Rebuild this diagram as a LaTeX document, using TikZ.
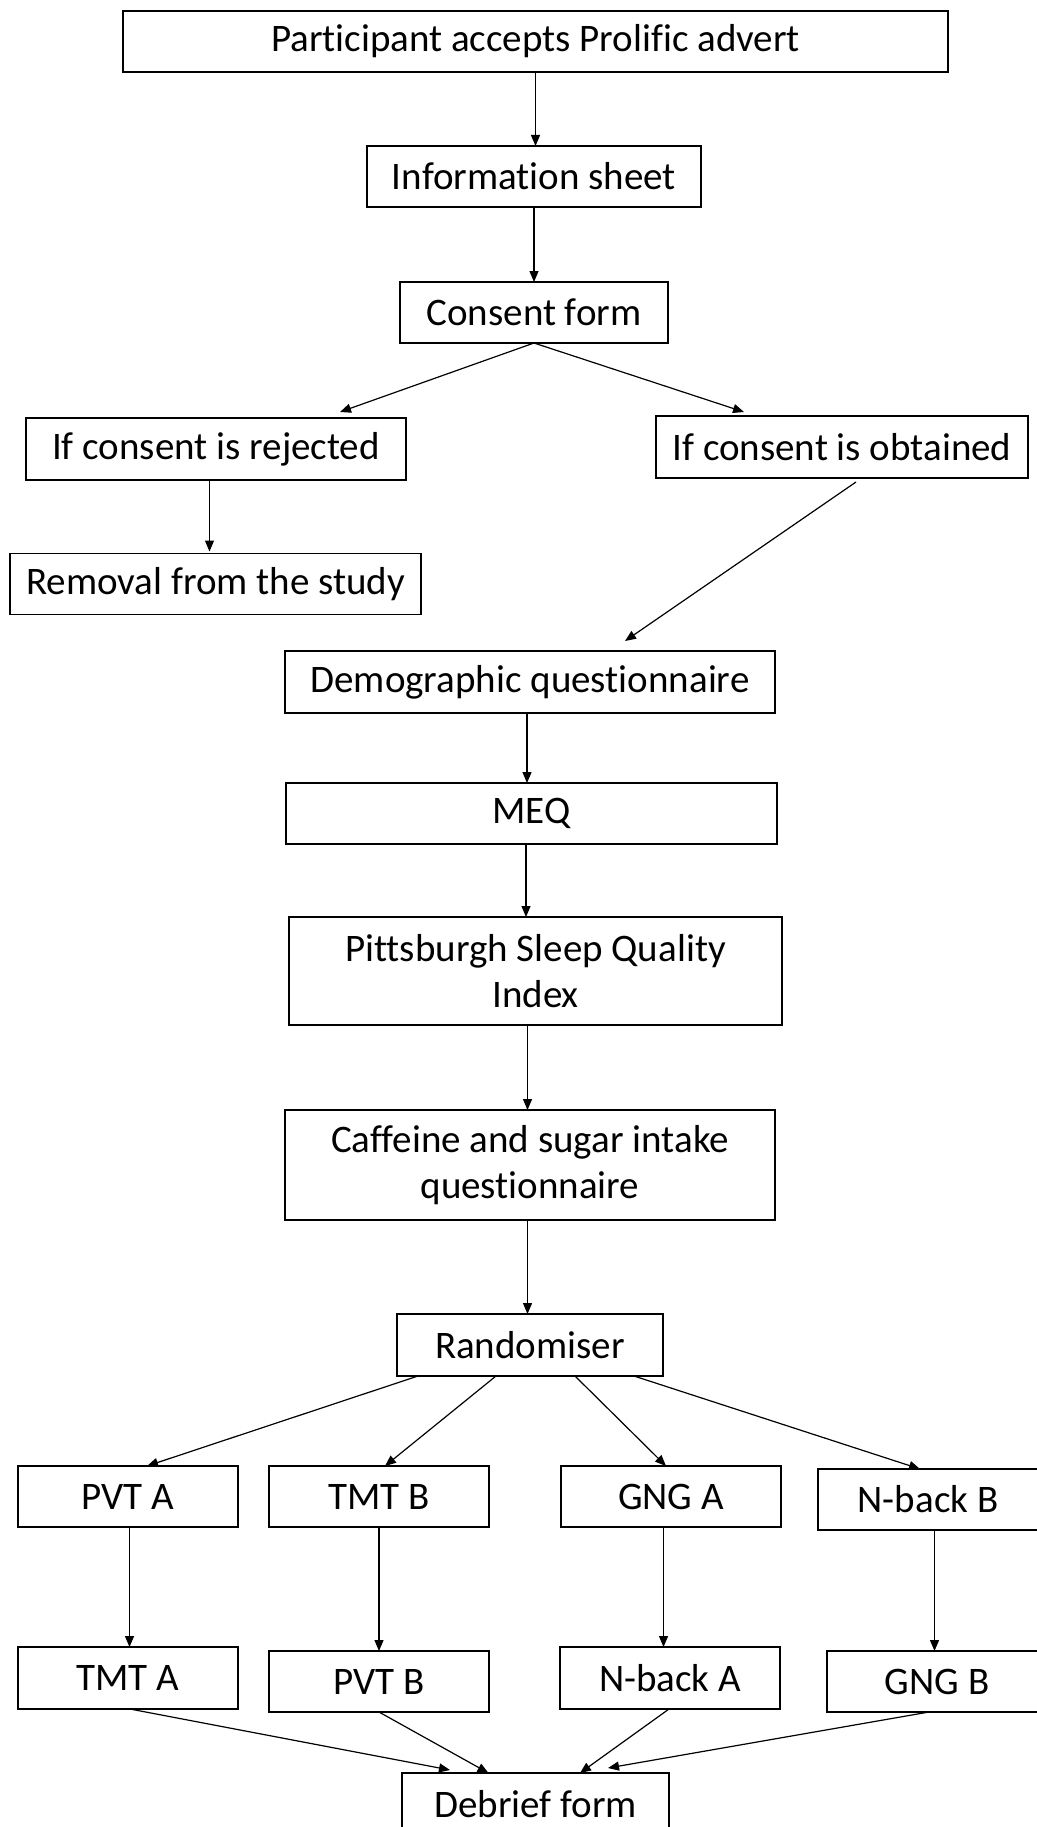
\documentclass[tikz,border=0pt]{standalone}
\usepackage{fontspec}
\setmainfont{Carlito}[Ligatures=NoCommon]
\usetikzlibrary{arrows.meta,calc}
\tikzset{
  box/.style={draw=black, line width=1.6pt, inner sep=0pt, outer sep=0pt, align=center,
    font=\fontsize{39}{46}\selectfont, text=black},
  conn/.style={line width=1.2pt, -{Triangle[length=11pt,width=9pt]}}
}
\begin{document}
\begin{tikzpicture}[x=1pt,y=-1pt]
\useasboundingbox[fill=white] (0,0) rectangle (1036,1827);
\node[box, minimum width=825, minimum height=61] (part) at (535.5,41.5) {Participant accepts Prolific advert};
\node[box, minimum width=334, minimum height=61] (info) at (534,176.5) {Information sheet};
\node[box, minimum width=268, minimum height=61] (consent) at (534,312.5) {Consent form};
\node[box, minimum width=380, minimum height=62] (rej) at (216,449) {If consent is rejected};
\node[box, minimum width=372, minimum height=62] (obt) at (842,447) {If consent is obtained};
\node[box, minimum width=411, minimum height=61] (rem) at (215.5,584) {Removal from the study};
\node[box, minimum width=490, minimum height=62] (demo) at (530,682) {Demographic questionnaire};
\node[box, minimum width=491, minimum height=61] (meq) at (531.5,813.5) {MEQ};
\node[box, minimum width=493, minimum height=108] (psqi) at (535.5,971) {Pittsburgh Sleep Quality\\Index};
\node[box, minimum width=490, minimum height=110] (caf) at (530,1165) {Caffeine and sugar intake\\questionnaire};
\node[box, minimum width=266, minimum height=62] (rand) at (530,1345) {Randomiser};
\node[box, minimum width=220, minimum height=61] (pvta) at (128,1496.5) {PVT A};
\node[box, minimum width=220, minimum height=61] (tmtb) at (379,1496.5) {TMT B};
\node[box, minimum width=220, minimum height=61] (gnga) at (671,1496.5) {GNG A};
\node[box, minimum width=220, minimum height=61] (nbackb) at (928,1499.5) {N-back B};
\node[box, minimum width=220, minimum height=62] (tmta) at (128,1678) {TMT A};
\node[box, minimum width=220, minimum height=61] (pvtb) at (379,1681.5) {PVT B};
\node[box, minimum width=220, minimum height=62] (nbacka) at (670,1678) {N-back A};
\node[box, minimum width=220, minimum height=61] (gngb) at (937,1681.5) {GNG B};
\node[box, minimum width=267, minimum height=62] (debrief) at (535.5,1804) {Debrief form};

\draw[conn] (part.south) -- (part.south |- info.north);
\draw[conn] (info.south) -- (info.south |- consent.north);
\draw[conn] (consent.south) -- ($(rej.north)+(124,-6)$);
\draw[conn] (consent.south) -- ($(obt.north)+(-98,-4)$);
\draw[conn] ($(rej.south)+(-6.5,0)$) -- ($(rem.north)+(-6,-2)$);
\draw[conn] ($(obt.south)+(14,4)$) -- ($(demo.north)+(95,-10)$);
\draw[conn] ($(demo.south)+(-3,0)$) -- ($(meq.north)+(-4.5,0)$);
\draw[conn] ($(meq.south)+(-5.5,0)$) -- ($(psqi.north)+(-9.5,0)$);
\draw[conn] ($(psqi.south)+(-8,0)$) -- ($(caf.north)+(-2.5,0)$);
\draw[conn] ($(caf.south)+(-2.5,0)$) -- ($(rand.north)+(-2.5,0)$);
\draw[conn] ($(rand.south)+(-112,0)$) -- ($(pvta.north)+(19,0)$);
\draw[conn] ($(rand.south)+(-34,0)$) -- ($(tmtb.north)+(6,0)$);
\draw[conn] ($(rand.south)+(45,0)$) -- ($(gnga.north)+(-5,0)$);
\draw[conn] ($(rand.south)+(104,0)$) -- ($(nbackb.north)+(-8,0)$);
\draw[conn] ($(pvta.south)+(1.5,0)$) -- ($(tmta.north)+(1.5,0)$);
\draw[conn] (tmtb.south) -- (pvtb.north);
\draw[conn] ($(gnga.south)+(-7.5,0)$) -- ($(nbacka.north)+(-6.5,0)$);
\draw[conn] ($(nbackb.south)+(6.5,0)$) -- ($(gngb.north)+(-2.5,0)$);
\draw[conn] ($(tmta.south)+(2,0)$) -- ($(debrief.north)+(-85.5,-3)$);
\draw[conn] (pvtb.south) -- ($(debrief.north)+(-47,0)$);
\draw[conn] ($(nbacka.south)+(-1,0)$) -- ($(debrief.north)+(44.5,0)$);
\draw[conn] ($(gngb.south)+(-8,0)$) -- ($(debrief.north)+(72.5,-5)$);
\end{tikzpicture}
\end{document}
